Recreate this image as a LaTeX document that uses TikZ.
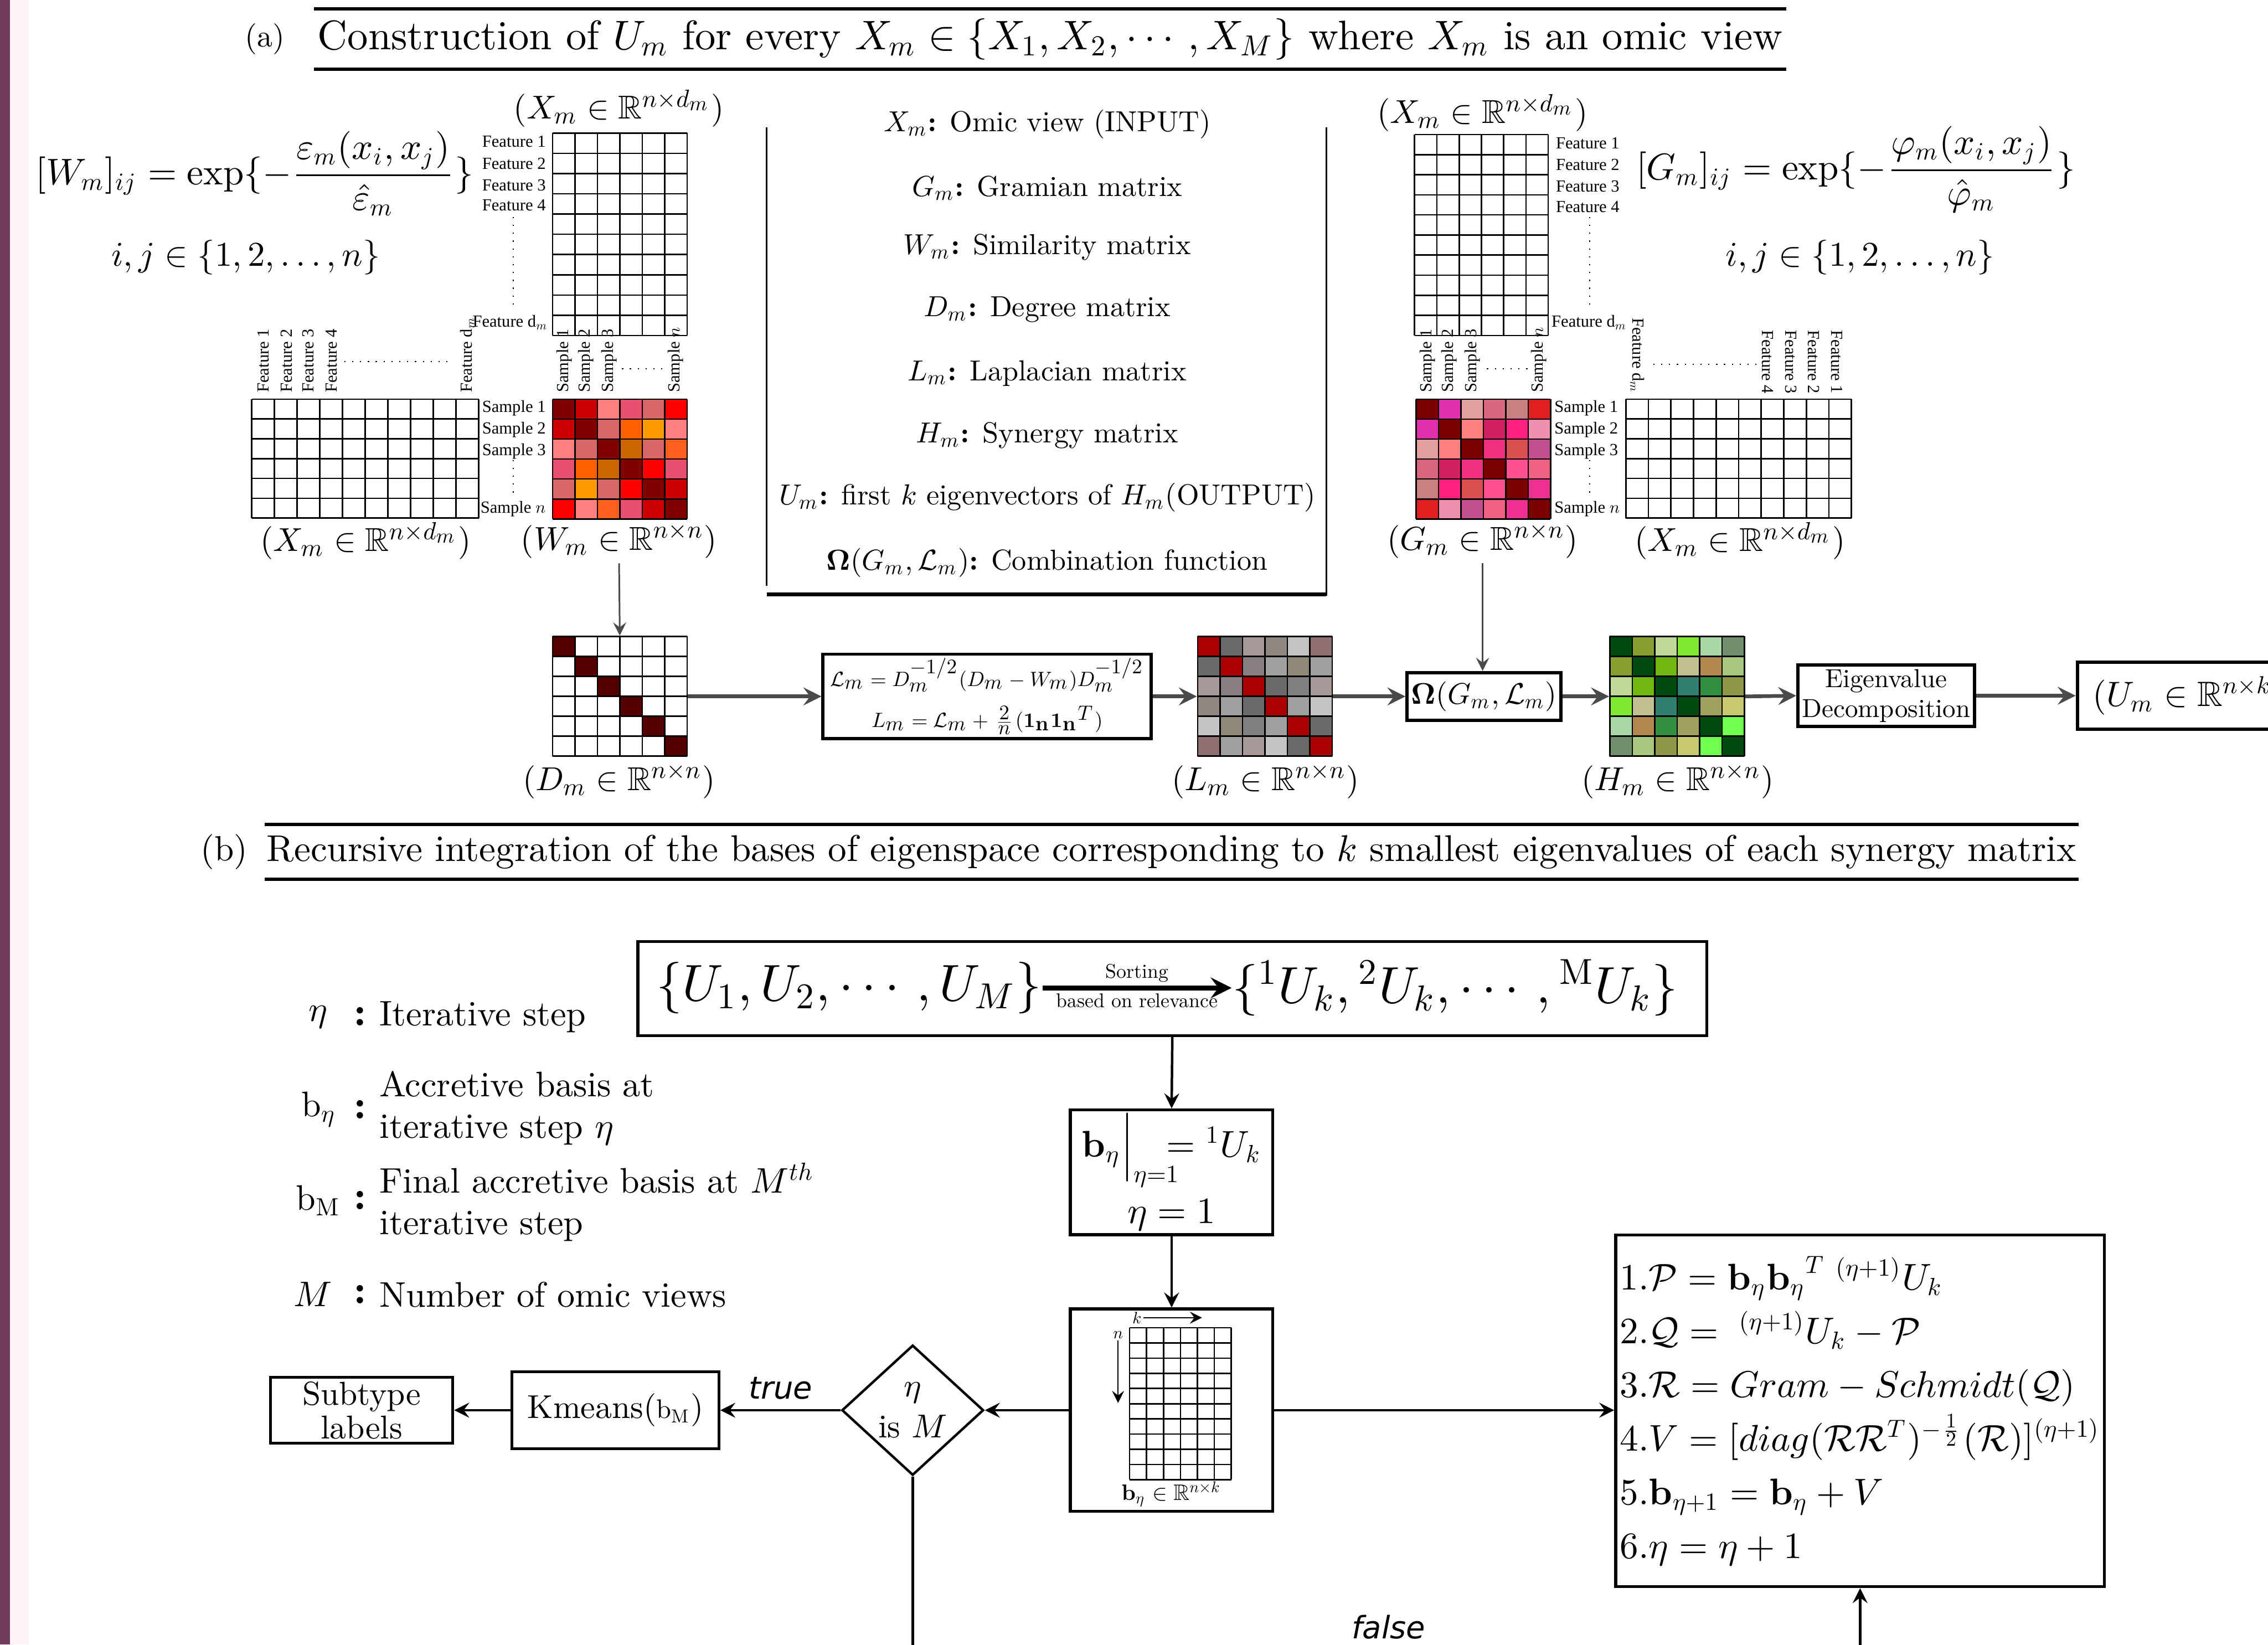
\documentclass[tikz,border=0pt]{standalone}
\usepackage{amsmath,amssymb,mathtools}
\usepackage[no-math]{fontspec}
\setmainfont{lmroman10}[Extension=.otf, UprightFont=*-regular, BoldFont=*-bold,
  ItalicFont=*-italic, BoldItalicFont=*-bolditalic]
\newfontfamily\flowfont{DejaVu Sans}
\newfontfamily\tinyfont{Liberation Serif}
% one design size for the math fonts, whatever the size
\DeclareFontShape{OML}{cmm}{m}{it}{<->cmmi10}{}
\DeclareFontShape{OMS}{cmsy}{m}{n}{<->cmsy10}{}
\DeclareFontShape{OT1}{cmr}{m}{n}{<->cmr10}{}
\DeclareFontShape{OT1}{cmr}{bx}{n}{<->cmbx10}{}
\usetikzlibrary{shapes.geometric}

\def\U{0.35pt}
\definecolor{sidebar}{HTML}{6E3B5C}
\definecolor{sidestrip}{HTML}{FBF3F7}
\definecolor{pipegray}{HTML}{4A4A4A}

% white data matrix: corner (#1,#2), #3 columns, #4 rows, cell #5 x #6
\newcommand{\datagrid}[6]{%
  \foreach \gk in {0,...,#3} \draw[cellline] ({#1+\gk*#5},#2) -- ++(0,{#4*#6});
  \foreach \gk in {0,...,#4} \draw[cellline] (#1,{#2+\gk*#6}) -- ++({#3*#5},0);
}
% 6x6 coloured matrix, colours given row by row
\newcommand{\heatmap}[3]{%
  \foreach \hx [count=\hi from 0] in {#3} {
    \pgfmathtruncatemacro{\hr}{floor(\hi/6)}
    \pgfmathtruncatemacro{\hc}{\hi-6*\hr}
    \edef\setcell{\noexpand\definecolor{cellcol}{HTML}{\hx}}\setcell
    \fill[cellcol] ({#1+\hc*15.5},{#2+\hr*13.8}) rectangle ++(15.5,13.8);
  }
  \datagrid{#1}{#2}{6}{6}{15.5}{13.8}
}

\begin{document}
\begin{tikzpicture}[x=0.35pt, y=-0.35pt,
  cellline/.style={line width=0.35pt},
  tinylab/.style={font=\tinyfont\fontsize{4.1}{4.5}\selectfont, inner sep=0.4pt},
  matlab/.style={font=\fontsize{8}{10}\selectfont, inner sep=1pt},
  matnode/.style={minimum width=93*\U, minimum height=83*\U, inner sep=0pt},
  legend/.style={font=\fontsize{7}{9}\selectfont, inner sep=1pt},
  pipebox/.style={draw, line width=0.8pt, align=center, inner sep=1pt},
  pipe/.style={-stealth, line width=0.9pt, draw=pipegray},
  thinpipe/.style={-stealth, line width=0.4pt, draw=pipegray},
  flowbox/.style={draw, line width=0.7pt, align=center, inner sep=1pt},
  flow/.style={-stealth, line width=0.6pt},
  dotline/.style={line width=0.3pt, dash pattern=on 0.3pt off 1.6pt},
  legb/.style={font=\fontsize{8.6}{10}\selectfont, inner sep=1pt},
  flowlab/.style={font=\flowfont\itshape\fontsize{7.5}{9}\selectfont}]

\useasboundingbox (0,0) rectangle (1568,1137);
\clip (0,0) rectangle (1568,1137);
\fill[sidebar] (0,0) rectangle (7,1137);
\fill[sidestrip] (7,0) rectangle (20,1137);

%% (a) title
\node[font=\fontsize{7.5}{9}\selectfont] (tagA) at (183,27) {(a)};
\draw[line width=0.8pt] (217,6) -- (1235,6);
\draw[line width=0.8pt] (217,48) -- (1235,48);
\node[font=\fontsize{10}{12}\selectfont] (titleA) at (726,27)
  {Construction of $U_m$ for every $X_m\in\{X_1,X_2,\cdots,X_M\}$ where $X_m$ is an omic view};

%% left view: W_m
\node[font=\fontsize{9}{11}\selectfont] (Wdef) at (176,120)
  {$[W_m]_{ij}=\exp\{-\dfrac{\varepsilon_m(x_i,x_j)}{\hat{\varepsilon}_m}\}$};
\node[font=\fontsize{8.4}{10}\selectfont] (Wrange) at (170,178) {$i,j\in\{1,2,\ldots,n\}$};

\node[matlab] (XtopL) at (428,75) {$(X_m\in\mathbb{R}^{n\times d_m})$};
\datagrid{382}{92}{6}{10}{15.5}{14}
\foreach \t/\y in {1/98,2/113,3/128,4/142}
  \node[tinylab, anchor=east] at (379,\y) {Feature \t};
\node[tinylab, anchor=east] at (381,223) {Feature d$_m$};
\draw[dotline] (355,150) -- (355,215);
\foreach \t/\x in {1/390,2/405,3/421}
  \node[tinylab, rotate=90, anchor=west] at (\x,273) {Sample \t};
\node[tinylab, rotate=90, anchor=west] at (467,273) {Sample $n$};
\draw[dotline] (430,255) -- (460,255);

\datagrid{174}{276}{10}{6}{15.7}{13.7}
\foreach \t/\x in {1/182,2/198,3/213,4/229}
  \node[tinylab, rotate=90, anchor=west] at (\x,273) {Feature \t};
\node[tinylab, rotate=90, anchor=west] at (323,273) {Feature d$_m$};
\draw[dotline] (238,250) -- (312,250);
\foreach \t/\y in {1/282,2/297,3/312}
  \node[tinylab, anchor=east] at (379,\y) {Sample \t};
\node[tinylab, anchor=east] at (379,352) {Sample $n$};
\draw[dotline] (355,318) -- (355,345);

\heatmap{382}{276}{800000,CC0000,FF8080,E85070,D86868,FF0000,
  CC0000,800000,D86868,FF6000,FF9900,FF8080,
  FF8080,D86868,800000,CC6600,D86868,FF6020,
  E85070,FF6000,CC6600,800000,FF0000,E85070,
  D86868,FF9900,D86868,FF0000,800000,CC0000,
  FF0000,FF8080,FF6020,E85070,CC0000,800000}
\node[matlab] (XbotL) at (253,374) {$(X_m\in\mathbb{R}^{n\times d_m})$};
\node[matlab] (Wlab) at (428,374) {$(W_m\in\mathbb{R}^{n\times n})$};

%% legend
\draw[line width=0.5pt] (530,88) -- (530,405);
\draw[line width=0.5pt] (917,88) -- (917,412);
\draw[line width=1pt] (530,411) -- (917,411);
\node[legend] (lgX) at (724,86) {$X_m$\textbf{:} Omic view (INPUT)};
\node[legend] (lgG) at (724,130) {$G_m$\textbf{:} Gramian matrix};
\node[legend] (lgW) at (724,171) {$W_m$\textbf{:} Similarity matrix};
\node[legend] (lgD) at (724,214) {$D_m$\textbf{:} Degree matrix};
\node[legend] (lgL) at (724,258) {$L_m$\textbf{:} Laplacian matrix};
\node[legend] (lgH) at (724,301) {$H_m$\textbf{:} Synergy matrix};
\node[legend] (lgU) at (724,344) {$U_m$\textbf{:} first $k$ eigenvectors of $H_m$(OUTPUT)};
\node[legend] (lgO) at (724,389) {$\mathbf{\Omega}(G_m,\mathcal{L}_m)$\textbf{:} Combination function};

%% right view: G_m
\node[matlab] (XtopR) at (1025,78) {$(X_m\in\mathbb{R}^{n\times d_m})$};
\datagrid{978}{93}{6}{10}{15.4}{13.9}
\foreach \t/\y in {1/99,2/114,3/129,4/143}
  \node[tinylab, anchor=west] at (1074,\y) {Feature \t};
\node[tinylab, anchor=west] at (1071,223) {Feature d$_m$};
\draw[dotline] (1099,150) -- (1099,215);
\foreach \t/\x in {1/987,2/1002,3/1018}
  \node[tinylab, rotate=90, anchor=west] at (\x,273) {Sample \t};
\node[tinylab, rotate=90, anchor=west] at (1064,273) {Sample $n$};
\draw[dotline] (1028,255) -- (1058,255);
\node[font=\fontsize{9}{11}\selectfont] (Gdef) at (1283,117)
  {$[G_m]_{ij}=\exp\{-\dfrac{\varphi_m(x_i,x_j)}{\hat{\varphi}_m}\}$};
\node[font=\fontsize{8.4}{10}\selectfont] (Grange) at (1286,178) {$i,j\in\{1,2,\ldots,n\}$};

\heatmap{979}{276}{7A0000,E030B0,E0A0A0,D86880,C88080,E02020,
  E030B0,7A0000,FF8080,D02060,FF2080,F090B0,
  E0A0A0,FF8080,7A0000,F03080,D85050,C05090,
  D86880,D02060,F03080,7A0000,FF5090,F06080,
  C88080,FF2080,D85050,FF5090,7A0000,F03090,
  E02020,F090B0,C05090,F06080,F03090,7A0000}
\foreach \t/\y in {1/282,2/297,3/312}
  \node[tinylab, anchor=west] at (1073,\y) {Sample \t};
\node[tinylab, anchor=west] at (1073,352) {Sample $n$};
\draw[dotline] (1099,318) -- (1099,345);
\datagrid{1124}{276}{10}{6}{15.6}{13.7}
\node[tinylab, rotate=-90, anchor=east] at (1132,274) {Feature d$_m$};
\foreach \t/\x in {4/1222,3/1238,2/1254,1/1270}
  \node[tinylab, rotate=-90, anchor=east] at (\x,274) {Feature \t};
\draw[dotline] (1143,252) -- (1215,252);
\node[matlab] (Glab) at (1025,374) {$(G_m\in\mathbb{R}^{n\times n})$};
\node[matlab] (XbotR) at (1203,374) {$(X_m\in\mathbb{R}^{n\times d_m})$};

%% pipeline
\heatmap{382}{440}{550000,FFFFFF,FFFFFF,FFFFFF,FFFFFF,FFFFFF,
  FFFFFF,550000,FFFFFF,FFFFFF,FFFFFF,FFFFFF,
  FFFFFF,FFFFFF,550000,FFFFFF,FFFFFF,FFFFFF,
  FFFFFF,FFFFFF,FFFFFF,550000,FFFFFF,FFFFFF,
  FFFFFF,FFFFFF,FFFFFF,FFFFFF,550000,FFFFFF,
  FFFFFF,FFFFFF,FFFFFF,FFFFFF,FFFFFF,550000}
\node[matnode] (Dm) at (428.5,481.5) {};
\node[matlab] (Dlab) at (428,540) {$(D_m\in\mathbb{R}^{n\times n})$};

\node[pipebox, minimum width=227*\U, minimum height=57*\U, font=\fontsize{5}{7}\selectfont] (lapbox) at (682.5,481.5)
  {$\mathcal{L}_m=D_m^{-1/2}(D_m-W_m)D_m^{-1/2}$\\[3pt]
   $L_m=\mathcal{L}_m+\frac{2}{n}(\mathbf{1_n}{\mathbf{1_n}}^T)$};

\heatmap{828}{440}{AA0000,6A6A6A,A89898,908880,C4C4C4,907070,
  6A6A6A,AA0000,888080,A0A0A0,908878,A0A0A0,
  A89898,888080,AA0000,6A6A6A,808080,A89898,
  908880,A0A0A0,6A6A6A,AA0000,A0A0A0,C4C4C4,
  C4C4C4,908878,808080,A0A0A0,AA0000,6A6A6A,
  907070,A0A0A0,A89898,C4C4C4,6A6A6A,AA0000}
\node[matnode] (Lm) at (874.5,481.5) {};
\node[matlab] (Llab) at (875,540) {$(L_m\in\mathbb{R}^{n\times n})$};

\node[pipebox, minimum width=102*\U, minimum height=33*\U, font=\fontsize{7.2}{8}\selectfont] (omega) at (1026,481.5)
  {$\mathbf{\Omega}(G_m,\mathcal{L}_m)$};

\heatmap{1113}{440}{004A10,88A030,C0D898,80E830,A8D8A8,709070,
  88A030,004A10,70B810,C0C090,B08850,A8C880,
  C0D898,70B810,004A10,308070,309040,909848,
  80E830,C0C090,308070,004A10,A0A060,C8C870,
  A8D8A8,B08850,309040,A0A060,004A10,70FF50,
  709070,A8C880,909848,C8C870,70FF50,004A10}
\node[matnode] (Hm) at (1159.5,481.5) {};
\node[matlab] (Hlab) at (1160,540) {$(H_m\in\mathbb{R}^{n\times n})$};

\node[pipebox, minimum width=116*\U, minimum height=42*\U, font=\fontsize{6.3}{7.3}\selectfont] (eigen) at (1304,481)
  {Eigenvalue\\Decomposition};
\node[pipebox, minimum width=155*\U, minimum height=46*\U, anchor=west, font=\fontsize{8.5}{10}\selectfont] (Um) at (1435,481)
  {$(U_m\in\mathbb{R}^{n\times k})$};

\draw[thinpipe] (Wlab.south) -- (Dm.north);
\draw[pipe] (Dm.east) -- (lapbox.west);
\draw[pipe] (lapbox.east) -- (Lm.west);
\draw[pipe] (Lm.east) -- (omega.west);
\draw[thinpipe] (Glab.south) -- (Glab.south |- omega.north);
\draw[pipe] (omega.east) -- (Hm.west);
\draw[pipe] (Hm.east) -- (eigen.west);
\draw[pipe] (eigen.east) -- (Um.west);

%% (b) title
\node[font=\fontsize{8.5}{10}\selectfont] (tagB) at (155,589) {(b)};
\draw[line width=0.8pt] (183,570) -- (1437,570);
\draw[line width=0.8pt] (183,608) -- (1437,608);
\node[font=\fontsize{9}{11}\selectfont] (titleB) at (810,589)
  {Recursive integration of the bases of eigenspace corresponding to $k$ smallest eigenvalues of each synergy matrix};

%% (b) legend
\node[legb, anchor=east] (symEta) at (230,703) {$\eta$};
\node[legb, anchor=east] (symB) at (236,767) {$\mathrm{b}_\eta$};
\node[legb, anchor=east] (symBM) at (239,830) {$\mathrm{b}_\mathrm{M}$};
\node[legb, anchor=east] (symM) at (233,895) {$M$};
\foreach \y in {703,767,830,895}
  \node[legb, font=\bfseries\fontsize{10}{10}\selectfont] at (249,\y) {:};
\node[legb, anchor=west] (txEta) at (259,703) {Iterative step};
\node[legb, anchor=west, align=left] (txB) at (259,766) {Accretive basis at\\iterative step $\eta$};
\node[legb, anchor=west, align=left] (txBM) at (259,831) {Final accretive basis at $M^{th}$\\iterative step};
\node[legb, anchor=west] (txM) at (259,895) {Number of omic views};

%% (b) flow
\node[flowbox, minimum width=739*\U, minimum height=65*\U] (sortbox) at (810.5,683.5) {};
\node[font=\fontsize{12.5}{15}\selectfont, inner sep=0pt] (uset) at (587,683) {$\{U_1,U_2,\cdots,U_M\}$};
\node[font=\fontsize{12.5}{15}\selectfont, inner sep=0pt] (kset) at (1006,683) {$\{{}^1U_k,{}^2U_k,\cdots,{}^{\mathrm{M}}U_k\}$};
\draw[-stealth, line width=1.2pt] (uset.east) -- (kset.west)
  node[midway, above=0.3pt, font=\fontsize{4.8}{5}\selectfont, inner sep=0.5pt] {Sorting}
  node[midway, below=0.3pt, font=\fontsize{4.8}{5}\selectfont, inner sep=0.5pt] {based on relevance};

\node[flowbox, minimum width=140*\U, minimum height=85*\U, font=\fontsize{9}{12}\selectfont] (init) at (810,810.5)
  {$\mathbf{b}_\eta\Big|_{\mathrlap{\eta=1}}\;\;={}^1U_k$\\[2pt]$\eta=1$};

\node[flowbox, minimum width=140*\U, minimum height=140*\U] (basis) at (810,975) {};
\datagrid{781}{918}{6}{10}{11.7}{10.5}
\node[font=\fontsize{4}{5}\selectfont, inner sep=0.3pt] (kdir) at (786,911) {$k$};
\draw[-stealth, line width=0.3pt] (kdir.east) -- (831,911);
\node[font=\fontsize{4}{5}\selectfont, inner sep=0.3pt] (ndir) at (773,923) {$n$};
\draw[-stealth, line width=0.3pt] (ndir.south) -- (773,970);
\node[font=\fontsize{5.4}{7}\selectfont] (blab) at (810,1033) {$\mathbf{b}_\eta\in\mathbb{R}^{n\times k}$};

\node[flowbox, minimum width=338*\U, minimum height=243*\U, font=\fontsize{9}{13}\selectfont,
      align=left] (update) at (1286,975.5)
  {1.$\mathcal{P}=\mathbf{b}_\eta{\mathbf{b}_\eta}^T\;{}^{(\eta+1)}U_k$\\
   2.$\mathcal{Q}=\;{}^{(\eta+1)}U_k-\mathcal{P}$\\
   3.$\mathcal{R}=Gram-Schmidt(\mathcal{Q})$\\
   4.$V=[diag(\mathcal{R}\mathcal{R}^T)^{-\frac{1}{2}}(\mathcal{R})]^{(\eta+1)}$\\
   5.$\mathbf{b}_{\eta+1}=\mathbf{b}_\eta+V$\\
   6.$\eta=\eta+1$};

\node[draw, diamond, line width=0.6pt, minimum width=98*\U, minimum height=90*\U, inner sep=0pt,
      align=center, font=\fontsize{8}{10}\selectfont] (test) at (631,975) {$\eta$\\is $M$};
\node[flowbox, minimum width=143*\U, minimum height=53*\U, font=\fontsize{8}{10}\selectfont] (kmeans) at (425.5,975)
  {Kmeans({\fontsize{6.5}{8}\selectfont$\mathrm{b}_\mathrm{M}$})};
\node[flowbox, minimum width=126*\U, minimum height=45*\U, font=\fontsize{8}{7}\selectfont] (subtype) at (250,975)
  {Subtype\\labels};

\draw[flow] (sortbox.south) -- (init.north);
\draw[flow] (init.south) -- (basis.north);
\draw[flow] (basis.east) -- (update.west |- basis.east);
\draw[flow] (basis.west) -- (test.east);
\draw[flow] (test.west) -- (kmeans.east) node[midway, above=-1pt, flowlab] {true};
\draw[flow] (kmeans.west) -- (subtype.east);
\draw[flow] (test.south) -- ++(0,200) -| (update.south);
\node[flowlab] (falseLab) at (960,1125) {false};

\end{tikzpicture}
\end{document}
